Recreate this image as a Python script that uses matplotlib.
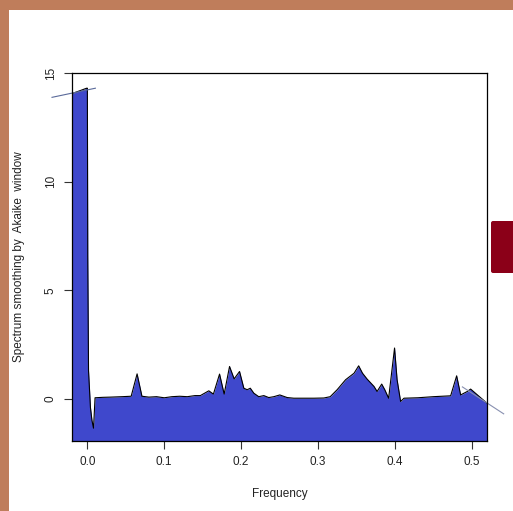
import numpy as np
import matplotlib.pyplot as plt
from matplotlib.patches import Rectangle, FancyBboxPatch

plt.rcParams['font.family'] = ['Liberation Sans', 'DejaVu Sans']

# smoothed spectrum
freq = [-0.02, -0.001, 0.0, 0.0005, 0.0015, 0.004, 0.006, 0.008, 0.010,
        0.02, 0.03, 0.045, 0.057, 0.0647, 0.071, 0.08, 0.09, 0.1, 0.11,
        0.12, 0.13, 0.14, 0.147, 0.158, 0.164, 0.172, 0.178, 0.185, 0.191,
        0.198, 0.2036, 0.208, 0.212, 0.2166, 0.223, 0.2296, 0.236, 0.2426,
        0.2504, 0.26, 0.2686, 0.28, 0.295, 0.3078, 0.316, 0.325, 0.336,
        0.347, 0.353, 0.358, 0.364, 0.373, 0.377, 0.383, 0.387, 0.392,
        0.3997, 0.403, 0.4076, 0.412, 0.43, 0.45, 0.4727, 0.4805, 0.4857,
        0.49, 0.4944, 0.4987, 0.52]
spec = [14.05, 14.3, 14.3, 6.6, 1.3, -0.4, -1.0, -1.35, 0.05,
        0.07, 0.08, 0.1, 0.12, 1.15, 0.12, 0.08, 0.1, 0.05, 0.1,
        0.12, 0.1, 0.15, 0.15, 0.37, 0.22, 1.14, 0.22, 1.49, 0.92,
        1.26, 0.49, 0.42, 0.49, 0.26, 0.1, 0.15, 0.06, 0.1,
        0.18, 0.06, 0.03, 0.03, 0.03, 0.04, 0.1, 0.42, 0.88,
        1.18, 1.52, 1.18, 0.91, 0.57, 0.34, 0.68, 0.42, 0.03,
        2.34, 0.88, -0.12, 0.03, 0.05, 0.1, 0.14, 1.06, 0.18,
        0.26, 0.34, 0.45, -0.2]

# stray guide lines drawn by the original
seg_left_f = [-0.046, 0.0104]
seg_left_v = [13.88, 14.3]
seg_right_f = [0.488, 0.5417]
seg_right_v = [0.55, -0.69]

xticks = [0.0, 0.1, 0.2, 0.3, 0.4, 0.5]
yticks = [0, 5, 10, 15]

fig = plt.figure(figsize=(5.13, 5.11), dpi=100)
fig.patch.set_facecolor('white')

# brown frame on top and left, dark red box on the right
brown = '#bf7d5b'
fig.patches.append(Rectangle((0, 1 - 10 / 511), 1, 10 / 511, transform=fig.transFigure,
                             facecolor=brown, edgecolor='none'))
fig.patches.append(Rectangle((0, 0), 9 / 513, 1, transform=fig.transFigure,
                             facecolor=brown, edgecolor='none'))
fig.patches.append(FancyBboxPatch((491 / 513, 1 - 273 / 511), 30 / 513, 52 / 511,
                                  boxstyle='round,pad=0,rounding_size=0.004',
                                  transform=fig.transFigure,
                                  facecolor='#8b0018', edgecolor='none'))

ax = fig.add_axes([72 / 513, 1 - 441 / 511, 415 / 513, 368 / 511])
ymin = -1.94
ax.fill_between(freq, spec, ymin, color='#3f48cc', lw=0)
ax.plot(freq, spec, color='black', lw=0.8)
ax.plot(seg_left_f, seg_left_v, color='#5a6a9a', lw=0.8, clip_on=False)
ax.plot(seg_right_f, seg_right_v, color='#8890b0', lw=0.8, clip_on=False)

ax.set_xlim(-0.02, 0.52)
ax.set_ylim(ymin, 15)
ax.set_xticks(xticks)
ax.set_xticklabels(['%.1f' % t for t in xticks])
ax.set_yticks(yticks)
ax.set_yticklabels([str(t) for t in yticks], rotation=90, va='center')
ax.tick_params(labelsize=8.5, length=6, width=0.8, color='#333333',
               labelcolor='#222222', pad=5)
for s in ax.spines.values():
    s.set_linewidth(0.9)
    s.set_color('black')

ax.set_xlabel('Frequency', fontsize=8.5, color='#222222', labelpad=14)
ax.set_ylabel('Spectrum smoothing by  Akaike  window', fontsize=8.5,
              color='#222222', labelpad=14)

fig.savefig('out.png', dpi=100)
